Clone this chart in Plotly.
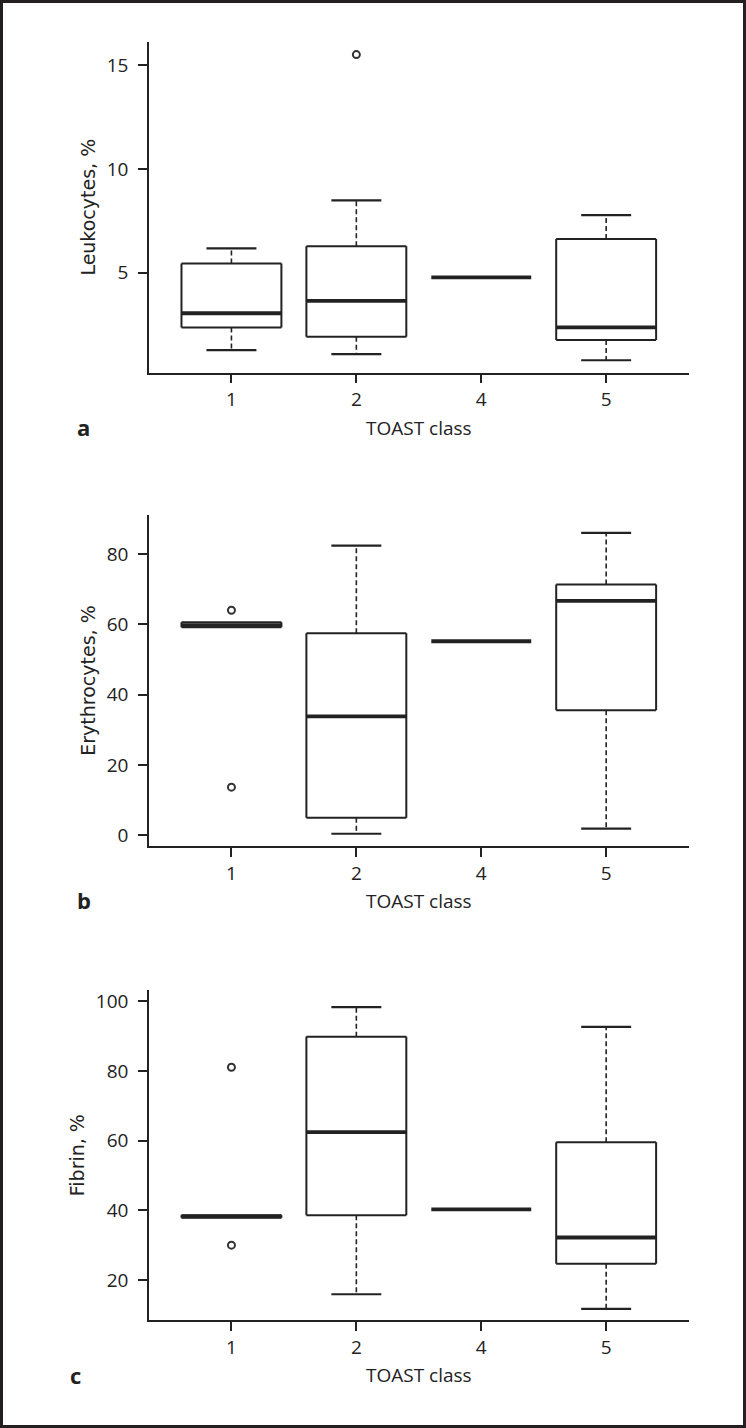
import plotly.graph_objects as go

# ---------------- data ----------------
classes = ["1", "2", "4", "5"]
positions = [1, 2, 3, 4]

# Panel a: Leukocytes, %
leu_lower = [1.28, 1.08, 4.78, 0.79]
leu_q1 = [2.37, 1.92, 4.78, 1.76]
leu_median = [3.05, 3.65, 4.78, 2.37]
leu_q3 = [5.45, 6.27, 4.78, 6.63]
leu_upper = [6.17, 8.48, 4.78, 7.77]
leu_out_x = [2]
leu_out_y = [15.5]

# Panel b: Erythrocytes, %
ery_lower = [59.2, 0.45, 55.2, 1.9]
ery_q1 = [59.2, 5.0, 55.2, 35.6]
ery_median = [59.8, 33.8, 55.2, 66.7]
ery_q3 = [60.6, 57.5, 55.2, 71.3]
ery_upper = [60.6, 82.4, 55.2, 86.0]
ery_out_x = [1, 1]
ery_out_y = [64.0, 13.7]

# Panel c: Fibrin, %
fib_lower = [37.9, 15.9, 40.3, 11.7]
fib_q1 = [37.9, 38.6, 40.3, 24.7]
fib_median = [38.3, 62.5, 40.3, 32.2]
fib_q3 = [38.6, 89.9, 40.3, 59.6]
fib_upper = [38.6, 98.4, 40.3, 92.7]
fib_out_x = [1, 1]
fib_out_y = [81.1, 30.0]

panels = [
    dict(lower=leu_lower, q1=leu_q1, med=leu_median, q3=leu_q3, upper=leu_upper,
         ox=leu_out_x, oy=leu_out_y, title="Leukocytes, %", label="a",
         yrange=[0.19, 16.12], ytick=[5, 10, 15]),
    dict(lower=ery_lower, q1=ery_q1, med=ery_median, q3=ery_q3, upper=ery_upper,
         ox=ery_out_x, oy=ery_out_y, title="Erythrocytes, %", label="b",
         yrange=[-3.04, 91.1], ytick=[0, 20, 40, 60, 80]),
    dict(lower=fib_lower, q1=fib_q1, med=fib_median, q3=fib_q3, upper=fib_upper,
         ox=fib_out_x, oy=fib_out_y, title="Fibrin, %", label="c",
         yrange=[8.42, 103.3], ytick=[20, 40, 60, 80, 100]),
]

# ---------------- styling ----------------
W, H = 746, 1428
INK = "#222222"
BOXW = 0.4     # half box width (R boxwex 0.8)
CAPW = 0.2     # half staple width
x_dom = [149 / W, 688.6 / W]
# plot areas in pixels (top, bottom)
px_areas = [(41.7, 372.7), (515, 846), (990, 1320.3)]
label_pos = [(83, 427), (84, 900), (75, 1375)]

fig = go.Figure()
layout_axes = {}

def sep_lines(segs):
    xs, ys = [], []
    for (x0, y0, x1, y1) in segs:
        xs += [x0, x1, None]
        ys += [y0, y1, None]
    return xs, ys

for i, p in enumerate(panels):
    n = "" if i == 0 else str(i + 1)
    xa, ya = "x" + n, "y" + n
    box_segs, med_segs, wh_segs, cap_segs = [], [], [], []
    for k, pos in enumerate(positions):
        lo, q1, md, q3, up = p["lower"][k], p["q1"][k], p["med"][k], p["q3"][k], p["upper"][k]
        if q3 > q1:
            box_segs += [(pos - BOXW, q1, pos + BOXW, q1), (pos + BOXW, q1, pos + BOXW, q3),
                         (pos + BOXW, q3, pos - BOXW, q3), (pos - BOXW, q3, pos - BOXW, q1)]
        med_segs.append((pos - BOXW, md, pos + BOXW, md))
        if up > q3:
            wh_segs.append((pos, q3, pos, up))
            cap_segs.append((pos - CAPW, up, pos + CAPW, up))
        if lo < q1:
            wh_segs.append((pos, q1, pos, lo))
            cap_segs.append((pos - CAPW, lo, pos + CAPW, lo))

    for segs, width, dash in [(wh_segs, 1.6, "5px,3px"), (cap_segs, 2.2, "solid"),
                              (box_segs, 2.0, "solid"), (med_segs, 3.8, "solid")]:
        if not segs:
            continue
        xs, ys = sep_lines(segs)
        fig.add_trace(go.Scatter(x=xs, y=ys, mode="lines", xaxis=xa, yaxis=ya,
                                 line=dict(color=INK, width=width, dash=dash),
                                 hoverinfo="skip", showlegend=False))
    fig.add_trace(go.Scatter(x=p["ox"], y=p["oy"], mode="markers", xaxis=xa, yaxis=ya,
                             marker=dict(symbol="circle-open", size=7, color="#333333",
                                         line=dict(width=2, color="#333333")),
                             showlegend=False))

    top, bot = px_areas[i]
    y_dom = [1 - bot / H, 1 - top / H]
    axis_common = dict(showline=True, linecolor=INK, linewidth=1.5, ticks="outside",
                       ticklen=9, tickwidth=1.5, tickcolor=INK, showgrid=False,
                       zeroline=False, automargin=False,
                       tickfont=dict(family="Open Sans", size=19, color=INK))
    layout_axes["xaxis" + n] = dict(axis_common, domain=x_dom, anchor=ya, range=[0.34, 4.66],
                                    tickmode="array", tickvals=positions, ticktext=classes,
                                    ticklabelstandoff=0,
                                    title=dict(text="TOAST class", standoff=10,
                                               font=dict(family="Open Sans", size=19, color=INK)))
    layout_axes["yaxis" + n] = dict(axis_common, domain=y_dom, anchor=xa, range=p["yrange"],
                                    tickmode="array", tickvals=p["ytick"],
                                    ticklabelstandoff=6,
                                    title=dict(text=p["title"], standoff=6,
                                               font=dict(family="DejaVu Sans", size=19, color=INK)))

annotations = []
for i, p in enumerate(panels):
    lx, ly = label_pos[i]
    annotations.append(dict(text="<b>" + p["label"] + "</b>", x=lx / W, y=1 - ly / H,
                            xref="paper", yref="paper", showarrow=False,
                            xanchor="center", yanchor="middle",
                            font=dict(family="Open Sans", size=22, color=INK)))

fig.update_layout(
    width=W, height=H, autosize=False,
    margin=dict(l=0, r=0, t=0, b=0),
    paper_bgcolor="white", plot_bgcolor="white",
    showlegend=False,
    annotations=annotations,
    shapes=[dict(type="rect", xref="paper", yref="paper",
                 x0=1.5 / W, x1=1 - 1.5 / W, y0=1.5 / H, y1=1 - 1.5 / H,
                 line=dict(color="#231f20", width=3), fillcolor="rgba(0,0,0,0)", layer="above")],
    **layout_axes,
)

fig.write_html("out.html", config={"displayModeBar": False},
               post_script="document.body.style.margin='0';document.body.style.overflow='hidden';")
